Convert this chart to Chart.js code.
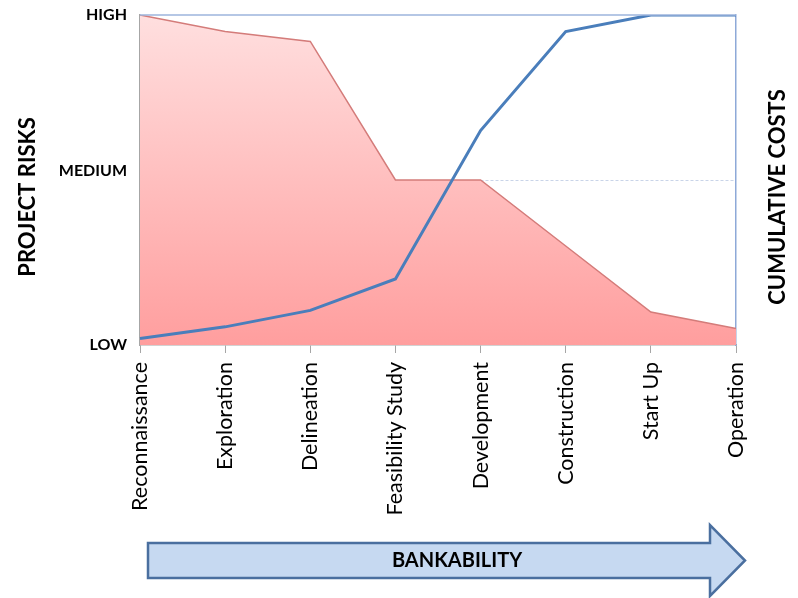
<!DOCTYPE html>
<html>
<head>
<meta charset="utf-8">
<script src="https://cdn.jsdelivr.net/npm/chart.js@4"></script>
<style>
  html, body { margin: 0; padding: 0; background: #ffffff; }
  #wrap { width: 798px; height: 598px; position: relative; }
</style>
</head>
<body>
<div id="wrap"><canvas id="c" width="798" height="598"></canvas></div>
<script>
// Project stages along the horizontal axis
const stages = ['Reconnaissance', 'Exploration', 'Delineation', 'Feasibility Study',
                'Development', 'Construction', 'Start Up', 'Operation'];
// Project risk per stage (0 = low, 1 = high)
const projectRisk = [1.0, 0.95, 0.92, 0.5, 0.5, 0.3, 0.1, 0.05];
// Cumulative costs per stage (0 = low, 1 = high)
const cumulativeCost = [0.02, 0.055, 0.105, 0.2, 0.65, 0.95, 1.0, 1.0];
// Qualitative levels for the left axis
const levelValues = [0, 0.5, 1];
const levelLabels = ['LOW', 'MEDIUM', 'HIGH'];

const FONT = 'Lato, "Open Sans", sans-serif';

function riskGradient(context) {
  const area = context.chart.chartArea;
  if (!area) return 'rgba(255,160,160,0.8)';
  const g = context.chart.ctx.createLinearGradient(0, area.top, 0, area.bottom);
  g.addColorStop(0, '#FFDFDF');
  g.addColorStop(1, '#FF9E9E');
  return g;
}

// Axis titles and the "bankability" arrow below the chart
const decorations = {
  id: 'decorations',
  afterDraw(chart) {
    const ctx = chart.ctx;
    const area = chart.chartArea;
    ctx.save();
    // frame line along the top of the plot
    ctx.strokeStyle = '#9DB5DC';
    ctx.lineWidth = 1.5;
    ctx.beginPath();
    ctx.moveTo(area.left, area.top);
    ctx.lineTo(area.right, area.top);
    ctx.stroke();

    ctx.fillStyle = '#000';
    ctx.textAlign = 'center';
    ctx.textBaseline = 'middle';
    ctx.font = 'bold 22px ' + FONT;
    ctx.save();
    ctx.translate(28, 197);
    ctx.rotate(-Math.PI / 2);
    ctx.fillText('PROJECT RISKS', 0, 0);
    ctx.restore();
    ctx.save();
    ctx.translate(778, 197);
    ctx.rotate(-Math.PI / 2);
    ctx.fillText('CUMULATIVE COSTS', 0, 0);
    ctx.restore();

    // arrow
    const x0 = 148, x1 = 710, xt = 745;
    const yT = 543, yB = 578, hT = 525, hB = 596, yM = 560.5;
    ctx.beginPath();
    ctx.moveTo(x0, yT);
    ctx.lineTo(x1, yT);
    ctx.lineTo(x1, hT);
    ctx.lineTo(xt, yM);
    ctx.lineTo(x1, hB);
    ctx.lineTo(x1, yB);
    ctx.lineTo(x0, yB);
    ctx.closePath();
    ctx.fillStyle = '#C6D9F1';
    ctx.fill();
    ctx.strokeStyle = '#4A6F9F';
    ctx.lineWidth = 2.5;
    ctx.lineJoin = 'miter';
    ctx.stroke();
    ctx.fillStyle = '#000';
    ctx.font = 'bold 20px ' + FONT;
    ctx.fillText('BANKABILITY', 457, yM);
    ctx.restore();
  }
};

new Chart(document.getElementById('c'), {
  type: 'line',
  data: {
    labels: stages,
    datasets: [
      {
        label: 'Cumulative costs',
        data: cumulativeCost,
        yAxisID: 'y2',
        borderColor: '#4A7EBB',
        borderWidth: 3,
        pointRadius: 0,
        tension: 0,
        fill: false,
        order: 0
      },
      {
        label: 'Project risks',
        data: projectRisk,
        yAxisID: 'y',
        borderColor: '#D47C7A',
        borderWidth: 1.5,
        backgroundColor: riskGradient,
        pointRadius: 0,
        tension: 0,
        fill: 'origin',
        order: 1
      }
    ]
  },
  options: {
    responsive: false,
    animation: false,
    layout: { padding: { top: 15, left: 0, right: 0, bottom: 0 } },
    plugins: { legend: { display: false }, tooltip: { enabled: false } },
    scales: {
      x: {
        offset: false,
        afterFit(scale) { scale.height = 253; },
        grid: {
          drawOnChartArea: false,
          drawTicks: true,
          tickLength: 8,
          tickColor: '#A6A6A6'
        },
        border: { color: '#A6A6A6', width: 1.5 },
        ticks: {
          minRotation: 90,
          maxRotation: 90,
          autoSkip: false,
          padding: 9,
          color: '#000',
          font: { family: FONT, size: 21.5 }
        }
      },
      y: {
        min: 0,
        max: 1,
        afterFit(scale) {
          scale.width = 140;
          scale.paddingTop = 0;
          scale.paddingBottom = 0;
        },
        afterBuildTicks(scale) { scale.ticks = levelValues.map(v => ({ value: v })); },
        grid: {
          drawTicks: false,
          color: ctx => (ctx.tick && ctx.tick.value === 0.5) ? '#C9D4E8' : 'transparent',
          lineWidth: 1
        },
        border: { color: '#A6A6A6', width: 1.5, dash: [3, 2] },
        ticks: {
          padding: 13,
          color: '#000',
          font: { family: FONT, size: 16, weight: 'bold' },
          callback: (v) => {
            const i = levelValues.indexOf(v);
            if (i < 0) return '';
            return levelLabels[i] === 'MEDIUM' ? ['MEDIUM', ''] : levelLabels[i];
          }
        }
      },
      y2: {
        position: 'right',
        min: 0,
        max: 1,
        afterFit(scale) {
          scale.width = 62;
          scale.paddingTop = 0;
          scale.paddingBottom = 0;
        },
        grid: { drawOnChartArea: false, drawTicks: false },
        border: { color: '#8EA9D8', width: 1.5 },
        ticks: { display: false }
      }
    }
  },
  plugins: [decorations]
});
</script>
</body>
</html>
